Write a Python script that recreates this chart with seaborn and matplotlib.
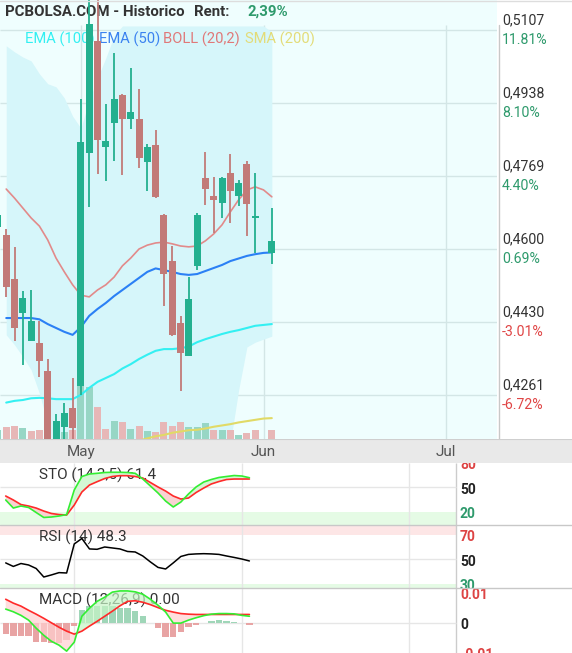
# PCBOLSA style daily chart: candles + bands on top, STO / RSI / MACD below
import numpy as np
import matplotlib
matplotlib.use("Agg")
import matplotlib.pyplot as plt
import matplotlib.transforms as mtrans
from matplotlib.lines import Line2D
import seaborn as sns

# ---------------- data ----------------
# trading-day index of every candle, May 1st is day 9, no session on day 31
days = [-1] + list(range(0, 31)) + [32]
opens = [0.4651, 0.4632, 0.4531, 0.4452, 0.4387, 0.4382, 0.4317, 0.4148, 0.4188, 0.4232,
         0.4283, 0.4823, 0.5082, 0.4837, 0.4893, 0.4957, 0.4902, 0.4901, 0.4802, 0.4841,
         0.4679, 0.4572, 0.4429, 0.4353, 0.4561, 0.4765, 0.4723, 0.4707, 0.4776, 0.4724,
         0.4797, 0.4673, 0.4591]
highs = [0.4684, 0.4646, 0.4605, 0.4503, 0.4505, 0.4433, 0.4345, 0.4218, 0.4242, 0.4301,
         0.4948, 0.5190, 0.5190, 0.4936, 0.5055, 0.4959, 0.5020, 0.4970, 0.4843, 0.4876,
         0.4681, 0.4607, 0.4445, 0.4535, 0.4684, 0.4825, 0.4767, 0.4768, 0.4820, 0.4760,
         0.4804, 0.4776, 0.4695]
lows = [0.4639, 0.4489, 0.4387, 0.4332, 0.4386, 0.4304, 0.4120, 0.4135, 0.4150, 0.4155,
        0.4262, 0.4697, 0.4775, 0.4758, 0.4805, 0.4772, 0.4879, 0.4787, 0.4735, 0.4719,
        0.4469, 0.4399, 0.4272, 0.4351, 0.4552, 0.4703, 0.4637, 0.4673, 0.4661, 0.4700,
        0.4629, 0.4591, 0.4566]
closes = [0.4679, 0.4513, 0.4418, 0.4486, 0.4433, 0.4341, 0.4140, 0.4201, 0.4220, 0.4184,
          0.4848, 0.5122, 0.4853, 0.4850, 0.4948, 0.4902, 0.4918, 0.4812, 0.4836, 0.4721,
          0.4543, 0.4401, 0.4360, 0.4484, 0.4679, 0.4738, 0.4714, 0.4765, 0.4735, 0.4753,
          0.4705, 0.4677, 0.4619]
volumes = [0.9, 1.2, 1.3, 1.1, 0.8, 0.9, 2.0, 1.5, 0.7, 0.9,
           5.3, 5.2, 3.2, 1.0, 1.8, 1.7, 1.0, 1.3, 0.8, 0.7,
           1.7, 1.3, 1.7, 1.2, 1.2, 1.6, 0.9, 0.9, 0.9, 0.4,
           0.6, 0.9, 0.9]  # millions

# indicator lines, days 0..32
line_days = list(range(0, 33))
boll_mid = [0.4739, 0.4718, 0.4695, 0.4672, 0.4653, 0.4621, 0.4579, 0.4547, 0.4517, 0.4493,
            0.4489, 0.4505, 0.4517, 0.4535, 0.4561, 0.4579, 0.4600, 0.4609, 0.4614, 0.4616,
            0.4612, 0.4607, 0.4605, 0.4607, 0.4619, 0.4635, 0.4656, 0.4686, 0.4714, 0.4737,
            0.4744, 0.4737, 0.4721]
boll_up = [0.5071, 0.5057, 0.5045, 0.5036, 0.5006, 0.4983, 0.4976, 0.4950, 0.4908, 0.4880,
           0.4945, 0.4996, 0.5043, 0.5094, 0.5117, 0.5117, 0.5117, 0.5117, 0.5117, 0.5117,
           0.5117, 0.5117, 0.5117, 0.5117, 0.5117, 0.5117, 0.5117, 0.5117, 0.5117, 0.5117,
           0.5117, 0.5117, 0.5103]
boll_low = [0.4401, 0.4378, 0.4350, 0.4320, 0.4265, 0.4194, 0.4110, 0.4085, 0.4060, 0.4050,
            0.4045, 0.4040, 0.4030, 0.4010, 0.3995, 0.3990, 0.3990, 0.4000, 0.4010, 0.4020,
            0.4040, 0.4060, 0.4080, 0.4100, 0.4115, 0.4125, 0.4135, 0.4150, 0.4273, 0.4373,
            0.4384, 0.4391, 0.4398]
ema50 = [0.4440, 0.4440, 0.4440, 0.4440, 0.4437, 0.4426, 0.4417, 0.4408, 0.4401, 0.4419,
         0.4445, 0.4461, 0.4475, 0.4491, 0.4505, 0.4519, 0.4533, 0.4547, 0.4555, 0.4551,
         0.4547, 0.4542, 0.4540, 0.4542, 0.4549, 0.4556, 0.4563, 0.4572, 0.4578, 0.4584,
         0.4588, 0.4591, 0.4592]
ema100 = [0.4244, 0.4248, 0.4250, 0.4254, 0.4255, 0.4254, 0.4252, 0.4252, 0.4252, 0.4262,
          0.4278, 0.4292, 0.4301, 0.4310, 0.4323, 0.4333, 0.4345, 0.4355, 0.4364, 0.4368,
          0.4368, 0.4370, 0.4374, 0.4384, 0.4391, 0.4397, 0.4403, 0.4408, 0.4412, 0.4417,
          0.4422, 0.4424, 0.4426]
sma200_days = list(range(15, 33))
sma200 = [0.4152, 0.4156, 0.4161, 0.4166, 0.4169, 0.4174, 0.4177, 0.4180, 0.4181, 0.4184,
          0.4188, 0.4191, 0.4194, 0.4198, 0.4201, 0.4204, 0.4207, 0.4208]

sto_k = [34.4, 24.5, 27.0, 25.2, 19.0, 12.9, 13.5, 14.7, 16.5, 46.7,
         63.3, 66.4, 67.2, 68.2, 68.5, 68.5, 68.2, 67.2, 60.2, 51.6,
         43.0, 33.1, 25.8, 31.9, 41.8, 50.4, 56.5, 59.6, 62.1, 63.3,
         64.5, 63.9, 61.8]
sto_d = [39.3, 34.4, 28.8, 27.0, 24.5, 20.8, 17.8, 16.5, 15.9, 28.2,
         44.2, 52.8, 56.9, 60.8, 63.3, 64.3, 64.3, 63.3, 61.4, 55.9,
         50.4, 45.4, 39.3, 35.6, 36.8, 43.6, 49.1, 54.1, 57.1, 59.6,
         60.2, 60.2, 60.2]
rsi = [47.0, 44.1, 46.5, 45.3, 42.4, 35.4, 37.1, 39.0, 38.7, 62.6,
       67.1, 58.5, 58.2, 60.1, 59.3, 58.5, 56.4, 56.0, 52.7, 47.8,
       43.3, 42.0, 47.0, 52.3, 54.0, 54.4, 54.6, 54.4, 54.0, 52.7,
       51.5, 50.2, 48.6]
macd = [0.0045, 0.0036, 0.0024, 0.0008, -0.0019, -0.0043, -0.0063, -0.0076, -0.0096, -0.0066,
        0.0021, 0.0048, 0.0071, 0.0085, 0.0102, 0.0106, 0.0106, 0.0103, 0.0095, 0.0078,
        0.0058, 0.0035, -0.0002, -0.0002, 0.0008, 0.0016, 0.0023, 0.0028, 0.0030, 0.0030,
        0.0029, 0.0024, 0.0021]
macd_sig = [0.0078, 0.0065, 0.0055, 0.0041, 0.0028, 0.0014, -0.0001, -0.0016, -0.0029, -0.0039,
            -0.0029, -0.0012, 0.0004, 0.0021, 0.0038, 0.0056, 0.0071, 0.0073, 0.0068, 0.0060,
            0.0050, 0.0041, 0.0035, 0.0030, 0.0028, 0.0027, 0.0027, 0.0027, 0.0027, 0.0027,
            0.0027, 0.0027, 0.0027]
macd_hist = [-0.0037, -0.0046, -0.0046, -0.0046, -0.0065, -0.0065, -0.0069, -0.0069, -0.0058, -0.0011,
             0.0043, 0.0054, 0.0054, 0.0054, 0.0054, 0.0049, 0.0049, 0.0037, 0.0021, -0.0002,
             -0.0018, -0.0049, -0.0050, -0.0033, -0.0016, -0.0010, 0.0, 0.0004, 0.0007, 0.0004,
             0.0001, 0.0, -0.0007]

price_ticks = [0.5107, 0.4938, 0.4769, 0.4600, 0.4430, 0.4261]
pct_labels = ["11.81%", "8.10%", "4.40%", "0.69%", "-3.01%", "-6.72%"]
month_days = [9, 31, 53]
month_labels = ["May", "Jun", "Jul"]

# ---------------- layout ----------------
sns.set_theme(style="white")
plt.rcParams["font.family"] = ["Roboto", "DejaVu Sans"]

W, H = 572, 653
fig = plt.figure(figsize=(W / 100, H / 100), dpi=100)
fig.patch.set_facecolor("white")


def add_box(x0, y0, x1, y1):
    # pixel box (top-left origin) -> axes
    a = fig.add_axes([x0 / W, 1 - y1 / H, (x1 - x0) / W, (y1 - y0) / H])
    a.set_xticks([])
    a.set_yticks([])
    for s in a.spines.values():
        s.set_visible(False)
    return a


X0, X1 = -0.75, 59.13          # visible day range
MAIN_W, SUB_W = 497, 456        # plot widths in px
P_LO, P_HI = 0.41596, 0.51772   # price range of the main panel
GRID_TOP = 0.5119               # grid stops under the title strip
VOL_TOP = 43.9                  # volume at the top of the main panel

up_col, dn_col = "#23b08f", "#c27a78"
grid_col = "#d3e6e6"

# ---------------- main price panel ----------------
ax = add_box(0, 0, MAIN_W, 439)
ax.set_facecolor("#effefe")

for p in price_ticks:
    ax.hlines(p, X0, X1, color=grid_col, lw=1, zorder=0.5)
ax.vlines(month_days, P_LO, GRID_TOP, color=grid_col, lw=1, zorder=0.5)

ax.fill_between(line_days, boll_low, boll_up, color="#d6f6fa", lw=0, zorder=0.6)

o = np.array(opens)
c = np.array(closes)
prev = np.r_[o[0], c[:-1]]
vol_col = np.where(c >= prev, "#97d6c5", "#e7b7b7")
vol_h = np.array(volumes) / VOL_TOP * (P_HI - P_LO)
ax.bar(days, vol_h, bottom=P_LO, width=0.84, color=vol_col, lw=0, zorder=1)

sns.lineplot(x=sma200_days, y=sma200, ax=ax, color="#e1da66", lw=1.5, zorder=2)
sns.lineplot(x=line_days, y=ema100, ax=ax, color="#33f0f2", lw=1.5, zorder=2)
sns.lineplot(x=line_days, y=ema50, ax=ax, color="#2b80f5", lw=1.5, zorder=2)
sns.lineplot(x=line_days, y=boll_mid, ax=ax, color="#e28a8a", lw=1.2, zorder=2)

# title and legend sit under the candles
tkw = dict(transform=ax.transAxes, va="center", zorder=2.5)
ax.text(5 / MAIN_W, 1 - 12 / 439, "PCBOLSA.COM - Historico", fontsize=10.8,
        fontweight="bold", color="#333333", **tkw)
ax.text(194 / MAIN_W, 1 - 12 / 439, "Rent:", fontsize=10.8, fontweight="bold",
        color="#333333", **tkw)
ax.text(247 / MAIN_W, 1 - 12 / 439, "2,39%", fontsize=10.8, fontweight="bold",
        color="#2e9a6c", **tkw)
for x, txt, col in [(25, "EMA (100)", "#33f0f2"), (99, "EMA (50)", "#3b82f0"),
                    (163, "BOLL (20,2)", "#e07878"), (245, "SMA (200)", "#e3dc78")]:
    ax.text(x / MAIN_W, 1 - 39 / 439, txt, fontsize=10.6, color=col, **tkw)

cdl_col = np.where(c >= o, up_col, dn_col)
ax.vlines(days, lows, highs, color=cdl_col, lw=1.3, zorder=3)
ax.bar(days, np.abs(c - o), bottom=np.minimum(o, c), width=0.84, color=cdl_col,
       lw=0, zorder=3.1)

lab_tr = mtrans.blended_transform_factory(ax.transAxes, ax.transData)
hi_tr = mtrans.offset_copy(lab_tr, fig=fig, x=5, y=10, units="dots")
lo_tr = mtrans.offset_copy(lab_tr, fig=fig, x=5, y=-10, units="dots")
for p, lab in zip(price_ticks, pct_labels):
    ax.text(1, p, f"{p:.4f}".replace(".", ","), transform=hi_tr, va="center",
            fontsize=10.2, color="#333333", clip_on=False)
    ax.text(1, p, lab, transform=lo_tr, va="center", fontsize=10.2, clip_on=False,
            color="#e04646" if lab.startswith("-") else "#2e9a6c")
ax.plot([1.004, 1.004], [0, (GRID_TOP - P_LO) / (P_HI - P_LO)], transform=ax.transAxes,
        color="#c8c8c8", lw=1, clip_on=False)

ax.set_xlim(X0, X1)
ax.set_ylim(P_LO, P_HI)
ax.set_xlabel("")
ax.set_ylabel("")

# ---------------- month strip ----------------
axb = add_box(0, 439, W, 463)
axb.set_facecolor("#e9e9e9")
axb.set_xlim(X0, X0 + (X1 - X0) * W / MAIN_W)
axb.set_ylim(0, 1)
axb.axhline(1, color="#cfcfcf", lw=1.5)
for d, lab in zip(month_days, month_labels):
    axb.text(d, 0.45, lab, ha="center", va="center", fontsize=11, color="#555555")

# ---------------- indicator panels ----------------
SUB_SPAN = (X1 - X0) * W / SUB_W


def sub_panel(y0, y1, lo, hi):
    a = add_box(0, y0, W, y1)
    a.set_facecolor("white")
    a.set_xlim(X0, X0 + SUB_SPAN)
    a.set_ylim(lo, hi)
    a.vlines(month_days, lo, hi, color="#e6e6e6", lw=1, zorder=0.5)
    a.vlines([X1], lo, hi, color="#cccccc", lw=1, zorder=0.5)
    return a


def side_label(a, y, txt, col):
    tr = mtrans.offset_copy(a.transData, fig=fig, x=4, y=-2.5, units="dots")
    a.text(X1, y, txt, transform=tr, va="center", fontsize=10, fontweight="bold",
           color=col, clip_on=True)


def panel_title(a, y, txt):
    a.text(39 / W, y, txt, transform=a.transAxes, va="center", fontsize=11,
           color="#333333", zorder=1)


red_lab, grn_lab = "#dd4444", "#2e9a6c"

# STO
ax_sto = sub_panel(463, 525, 3.65, 79.9)
ax_sto.axhspan(3.65, 20, xmin=0, xmax=SUB_W / W, color="#e5fbe5", lw=0, zorder=0.3)
ax_sto.hlines(50, X0, X1, color="#e6e6e6", lw=1, zorder=0.5)
panel_title(ax_sto, 0.795, "STO (14,3,5) 61.4")
k = np.array(sto_k)
d = np.array(sto_d)
ax_sto.fill_between(line_days, k, d, where=k >= d, interpolate=True, color="#d4f7d4", lw=0, zorder=1.5)
ax_sto.fill_between(line_days, k, d, where=k < d, interpolate=True, color="#f9d2d2", lw=0, zorder=1.5)
sns.lineplot(x=line_days, y=sto_d, ax=ax_sto, color="#ff2a2a", lw=1.2, zorder=2)
sns.lineplot(x=line_days, y=sto_k, ax=ax_sto, color="#33ee33", lw=1.2, zorder=2)
side_label(ax_sto, 80, "80", red_lab)
side_label(ax_sto, 50, "50", "#222222")
side_label(ax_sto, 20, "20", grn_lab)

# RSI
ax_rsi = sub_panel(525, 588.3, 26.1, 78.2)
ax_rsi.axhspan(70, 78.2, xmin=0, xmax=SUB_W / W, color="#fde6e6", lw=0, zorder=0.3)
ax_rsi.axhspan(26.1, 30, xmin=0, xmax=SUB_W / W, color="#e5fbe5", lw=0, zorder=0.3)
ax_rsi.hlines(50, X0, X1, color="#e6e6e6", lw=1, zorder=0.5)
panel_title(ax_rsi, 0.80, "RSI (14) 48.3")
sns.lineplot(x=line_days, y=rsi, ax=ax_rsi, color="black", lw=1.1, zorder=2)
side_label(ax_rsi, 70, "70", red_lab)
side_label(ax_rsi, 50, "50", "#222222")
side_label(ax_rsi, 30, "30", grn_lab)

# MACD
ax_macd = sub_panel(588.3, 653, -0.01023, 0.01148)
ax_macd.hlines(0, X0, X1, color="#e6e6e6", lw=1, zorder=0.5)
hist = np.array(macd_hist)
ax_macd.bar(line_days, hist, width=0.84, lw=0, zorder=1,
            color=np.where(hist >= 0, "#9fd6b8", "#e8a4a4"))
m = np.array(macd)
s = np.array(macd_sig)
ax_macd.fill_between(line_days, m, s, where=m >= s, interpolate=True, color="#c6f5c6", alpha=0.7, lw=0, zorder=1.5)
ax_macd.fill_between(line_days, m, s, where=m < s, interpolate=True, color="#ffd0d0", alpha=0.7, lw=0, zorder=1.5)
panel_title(ax_macd, 0.808, "MACD (12,26,9) 0.00")
sns.lineplot(x=line_days, y=macd_sig, ax=ax_macd, color="#ff2a2a", lw=1.2, zorder=2)
sns.lineplot(x=line_days, y=macd, ax=ax_macd, color="#33ee33", lw=1.2, zorder=2)
side_label(ax_macd, 0.01, "0.01", red_lab)
side_label(ax_macd, 0, "0", "#222222")
side_label(ax_macd, -0.01, "-0.01", red_lab)

for a in (ax_sto, ax_rsi, ax_macd):
    a.set_xlabel("")
    a.set_ylabel("")

# panel separators and top border
for ypx in (525, 588.3):
    fig.add_artist(Line2D([0, 1], [1 - ypx / H] * 2, color="#c8c8c8", lw=1))
fig.add_artist(Line2D([0, 1], [1 - 0.5 / H] * 2, color="#dddddd", lw=1))

fig.savefig("out.png", dpi=100)
